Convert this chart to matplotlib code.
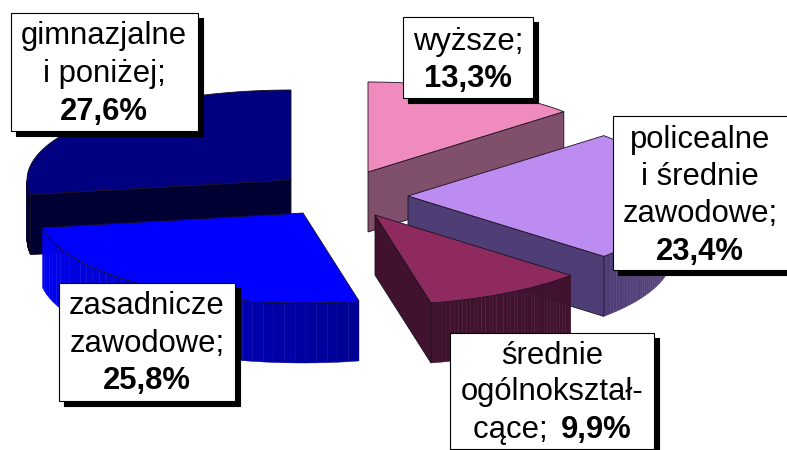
import numpy as np
import matplotlib
matplotlib.use("Agg")
import matplotlib.pyplot as plt
from matplotlib.colors import to_rgb
from matplotlib.patches import Rectangle

# data, clockwise from 12 o'clock
categories = ["wyższe", "policealne i średnie zawodowe", "średnie ogólnokształcące",
              "zasadnicze zawodowe", "gimnazjalne i poniżej"]
shares = [13.3, 23.4, 9.9, 25.8, 27.6]

# look of each slice, same order as shares
apex_points = [(368, 172), (408, 196), (375, 215), (303, 213), (291, 180)]
top_colors = ["#f08cbd", "#bd8cf0", "#8f2a5e", "#0000ff", "#000080"]
edge_colors = ["#804f6b", "#4f3d75", "#40122e", "#0000ff", "#000033"]
arc_colors = [("#804f6b", "#804f6b"), ("#5a4a80", "#4f3d75"), ("#40122e", "#40122e"),
              ("#000095", "#0000f5"), ("#000033", "#000033")]

rx, ry = 264, 90
depth = 60
line = "#1a1020"

plt.rcParams["font.family"] = ["Liberation Sans", "DejaVu Sans"]
fig = plt.figure(figsize=(7.87, 4.5), dpi=100)
ax = fig.add_axes([0, 0, 1, 1])
ax.set_xlim(0, 787)
ax.set_ylim(450, 0)
ax.axis("off")


def point(apex, angle):
    return apex[0] + rx * np.sin(angle), apex[1] - ry * np.cos(angle)


def quad(xs, ys, color, edge=None):
    ax.fill(xs, ys, facecolor=color, edgecolor=edge or color, linewidth=0.6 if edge else 0.3)


stops = np.radians(np.cumsum([0] + shares) * 3.6)

# back slices first so the nearer ones cover them
for i in [4, 3, 0, 1, 2]:
    a0, a1 = stops[i], stops[i + 1]
    ax0, ay0 = apex_points[i]

    # outer wall, only the part facing the viewer
    lo, hi = max(a0, np.pi / 2), min(a1, 3 * np.pi / 2)
    if hi > lo:
        angles = np.linspace(lo, hi, 41)
        c0, c1 = np.array(to_rgb(arc_colors[i][0])), np.array(to_rgb(arc_colors[i][1]))
        for j in range(40):
            px, py = point(apex_points[i], angles[j:j + 2])
            t = j / 39
            col = c0 + (c1 - c0) * t
            quad([px[0], px[1], px[1], px[0]],
                 [py[0], py[1], py[1] + depth, py[0] + depth], col)

    # radial wall that faces the viewer
    for a, visible in ((a0, np.sin(a0) < -1e-6), (a1, np.sin(a1) > 1e-6)):
        if visible:
            px, py = point(apex_points[i], a)
            quad([ax0, px, px, ax0], [ay0, py, py + depth, ay0 + depth], edge_colors[i], line)

    # top of the slice
    angles = np.linspace(a0, a1, 80)
    px, py = point(apex_points[i], angles)
    ax.fill(np.r_[ax0, px], np.r_[ay0, py], facecolor=top_colors[i],
            edgecolor=line, linewidth=0.6)

# label boxes: left, top, right, bottom
boxes = [(11, 13, 198, 131), (59, 283, 235, 401), (403, 17, 533, 98),
         (613, 116, 790, 270), (450, 333, 654, 449)]
for left, top, right, bottom in boxes:
    ax.add_patch(Rectangle((left + 5, top + 5), right - left, bottom - top,
                           facecolor="black", edgecolor="black", linewidth=0.8))
    ax.add_patch(Rectangle((left, top), right - left, bottom - top,
                           facecolor="white", edgecolor="black", linewidth=0.8))

size = 22.3
label_lines = [
    (104, [("gimnazjalne", 44, "normal"), ("i poniżej;", 82, "normal"), ("27,6%", 120, "bold")]),
    (147, [("zasadnicze", 314, "normal"), ("zawodowe;", 352, "normal"), ("25,8%", 389, "bold")]),
    (468, [("wyższe;", 50, "normal"), ("13,3%", 87, "bold")]),
    (700, [("policealne", 148, "normal"), ("i średnie", 185, "normal"),
           ("zawodowe;", 222, "normal"), ("23,4%", 260, "bold")]),
    (552, [("średnie", 364, "normal"), ("ogólnokształ-", 400, "normal")]),
]
for cx, rows in label_lines:
    for txt, base, weight in rows:
        ax.text(cx, base, txt, ha="center", va="baseline", fontsize=size,
                fontweight=weight, color="black")

# last box has two weights on one line
ax.text(556, 438, "cące; ", ha="right", va="baseline", fontsize=size, color="black")
ax.text(561, 438, "9,9%", ha="left", va="baseline", fontsize=size, fontweight="bold", color="black")

fig.savefig("out.png", dpi=100)
